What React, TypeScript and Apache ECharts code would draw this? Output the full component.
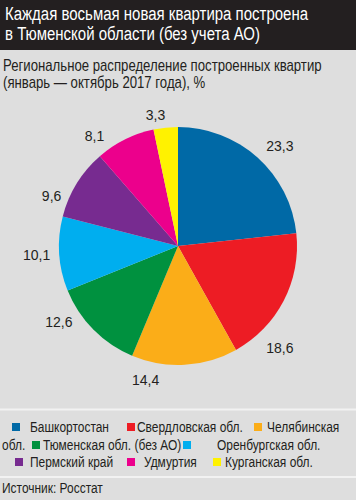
import React, { useEffect, useRef } from "react";
import * as echarts from "echarts";

// ---- data ----
const categories = [
  "Башкортостан",
  "Свердловская обл.",
  "Челябинская обл.",
  "Тюменская обл. (без АО)",
  "Оренбургская обл.",
  "Пермский край",
  "Удмуртия",
  "Курганская обл.",
];
const shares = [23.3, 18.6, 14.4, 12.6, 10.1, 9.6, 8.1, 3.3];
const titleLines = ["Каждая восьмая новая квартира построена", "в Тюменской области (без учета АО)"];
const subtitleLines = ["Региональное распределение построенных квартир", "(январь — октябрь 2017 года), %"];
const sourceText = "Источник: Росстат";

// ---- styles / layout ----
const colors = ["#0069a6", "#ed1c24", "#fbad18", "#00913f", "#00aeef", "#772b90", "#ec008c", "#fff200"];
const labelNudge = [
  [1, -9],
  [-26, 45],
  [-58, 11],
  [-13, -10],
  [0, 1],
  [-7, 15],
  [-14, 0],
  [5, -9],
];
const legendRowsY = [427, 445, 462];
const legendSlots = [
  { row: 0, mx: 12, tx: 30 },
  { row: 0, mx: 127, tx: 137 },
  { row: 0, mx: 254, tx: 267, wrap: { row: 1, x: 2 } },
  { row: 1, mx: 32, tx: 43 },
  { row: 1, mx: 183, tx: 217 },
  { row: 2, mx: 15, tx: 30 },
  { row: 2, mx: 127, tx: 144 },
  { row: 2, mx: 213, tx: 225 },
];
const FAMILY = "'Liberation Sans', Arial, sans-serif";
const DARK = "#231f20";

function measure(text: string, font: string): number {
  const c = document.createElement("canvas").getContext("2d");
  if (!c) return text.length * 8;
  c.font = font;
  return c.measureText(text).width;
}

export default function App() {
  const ref = useRef<HTMLDivElement>(null);

  useEffect(() => {
    document.body.style.margin = "0";
    if (!ref.current) return;
    const chart = echarts.init(ref.current, undefined, { renderer: "svg" });

    const titleFont = `19px ${FAMILY}`;
    const subFont = `16px ${FAMILY}`;
    const legFont = `15px ${FAMILY}`;
    // condensed look: horizontal squeeze fitted to the reference's widths
    const titleScale = 303 / measure(titleLines[0], titleFont);
    const subScale = 319 / measure(subtitleLines[0], subFont);
    const legScale = 79 / measure(categories[0], legFont);

    const graphics: any[] = [
      { type: "rect", shape: { x: 0, y: 0, width: 356, height: 50 }, style: { fill: DARK }, z: 1 },
      { type: "line", shape: { x1: 0, y1: 409.5, x2: 356, y2: 409.5 }, style: { stroke: "#f2f2f2", lineWidth: 2 } },
      { type: "line", shape: { x1: 0, y1: 477, x2: 356, y2: 477 }, style: { stroke: "#f2f2f2", lineWidth: 2 } },
    ];
    titleLines.forEach((t, i) => {
      graphics.push({
        type: "text",
        x: 5,
        y: 14 + i * 20,
        scaleX: titleScale,
        z: 2,
        style: { text: t, fill: "#ffffff", font: titleFont, verticalAlign: "middle" },
      });
    });
    subtitleLines.forEach((t, i) => {
      graphics.push({
        type: "text",
        x: 3,
        y: 65.5 + i * 17,
        scaleX: subScale,
        style: { text: t, fill: DARK, font: subFont, verticalAlign: "middle" },
      });
    });
    categories.forEach((name, i) => {
      const s: any = legendSlots[i];
      const y = legendRowsY[s.row];
      graphics.push({
        type: "rect",
        shape: { x: s.mx, y: y - 4, width: 8, height: 8 },
        style: { fill: colors[i] },
      });
      let first = name;
      let rest = "";
      if (s.wrap) {
        const k = name.indexOf(" ");
        first = name.slice(0, k);
        rest = name.slice(k + 1);
      }
      graphics.push({
        type: "text",
        x: s.tx,
        y,
        scaleX: legScale,
        style: { text: first, fill: DARK, font: legFont, verticalAlign: "middle" },
      });
      if (s.wrap) {
        graphics.push({
          type: "text",
          x: s.wrap.x,
          y: legendRowsY[s.wrap.row],
          scaleX: legScale,
          style: { text: rest, fill: DARK, font: legFont, verticalAlign: "middle" },
        });
      }
    });
    graphics.push({
      type: "text",
      x: 2,
      y: 488,
      scaleX: legScale,
      style: { text: sourceText, fill: DARK, font: legFont, verticalAlign: "middle" },
    });

    chart.setOption({
      animation: false,
      backgroundColor: "#dedede",
      color: colors,
      graphic: graphics,
      series: [
        {
          type: "pie",
          center: [178, 246],
          radius: [0, 119],
          startAngle: 90,
          clockwise: true,
          avoidLabelOverlap: false,
          itemStyle: { borderWidth: 0 },
          label: {
            show: true,
            position: "outside",
            color: DARK,
            fontSize: 14,
            fontFamily: FAMILY,
            formatter: (p: any) => String(p.value).replace(".", ","),
          },
          labelLine: { show: false, length: 4, length2: 0 },
          labelLayout: (p: any) => ({ dx: labelNudge[p.dataIndex][0], dy: labelNudge[p.dataIndex][1] }),
          emphasis: { disabled: true },
          data: categories.map((name, i) => ({ name, value: shares[i] })),
        },
      ],
    });
    return () => chart.dispose();
  }, []);

  return <div ref={ref} style={{ width: 356, height: 500 }} />;
}
